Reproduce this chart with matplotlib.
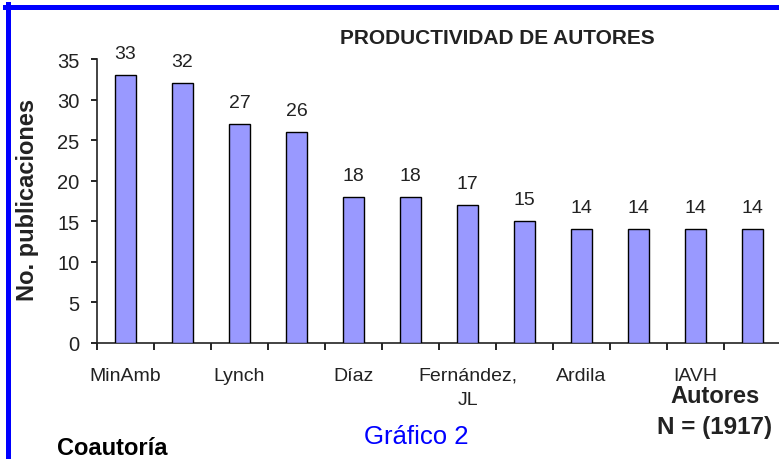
import matplotlib
matplotlib.use("Agg")
import matplotlib.pyplot as plt
from matplotlib.lines import Line2D
import numpy as np

plt.rcParams["font.family"] = ["Liberation Sans", "DejaVu Sans"]

autores = ["MinAmb", "", "Lynch", "", "Díaz", "", "Fernández,\nJL", "",
           "Ardila", "", "IAVH", ""]
publicaciones = [33, 32, 27, 26, 18, 18, 17, 15, 14, 14, 14, 14]
yticks = [0, 5, 10, 15, 20, 25, 30, 35]

BAR = "#9999FF"
INK = "#222222"

fig = plt.figure(figsize=(7.79, 4.60), dpi=100)
ax = fig.add_axes([97 / 779, 116 / 460, 684 / 779, 284 / 460])

x = np.arange(len(publicaciones))
ax.bar(x, publicaciones, width=0.37, color=BAR, edgecolor="black", lw=1.0,
       zorder=3)
for xi, v in zip(x, publicaciones):
    ax.annotate(str(v), (xi, v), xytext=(0, 15.5), textcoords="offset points",
                ha="center", va="center", fontsize=14, color=INK)

ax.set_xlim(-0.5, len(publicaciones) - 0.5)
ax.set_ylim(0, 35)
ax.set_yticks(yticks)
ax.tick_params(axis="y", direction="out", length=4.5, width=1.2, pad=8,
               labelsize=14.5, labelcolor=INK)

# boundary ticks between categories, labels on every second bar
ax.set_xticks(np.arange(len(publicaciones) + 1) - 0.5)
ax.set_xticklabels([])
ax.tick_params(axis="x", which="major", direction="out", length=5, width=1.2)
lab_pos = [i for i, a in enumerate(autores) if a]
ax.set_xticks(lab_pos, minor=True)
ax.set_xticklabels([autores[i] for i in lab_pos], minor=True)
ax.tick_params(axis="x", which="minor", length=0, pad=17, labelsize=14,
               labelcolor=INK)
for t in ax.get_xticklabels(minor=True):
    t.set_verticalalignment("top")
    t.set_linespacing(1.55)

for s in ("top", "right"):
    ax.spines[s].set_visible(False)
for s in ("left", "bottom"):
    ax.spines[s].set_linewidth(1.2)
    ax.spines[s].set_color(INK)

fig.text(497 / 779, 1 - 38 / 460, "PRODUCTIVIDAD DE AUTORES", ha="center",
         va="center", fontsize=15, fontweight="bold", color=INK)
fig.text(28 / 779, 1 - 200 / 460, "No. publicaciones", rotation=90,
         ha="center", va="center", fontsize=17, fontweight="bold", color=INK)
fig.text(715 / 779, 1 - 397 / 460, "Autores", ha="center", va="center",
         fontsize=17, fontweight="bold", color=INK)
fig.text(715 / 779, 1 - 428 / 460, "N = (1917)", ha="center", va="center",
         fontsize=17.5, fontweight="bold", color=INK)
fig.text(416 / 779, 1 - 437 / 460, "Gráfico 2", ha="center", va="center",
         fontsize=18.5, color="#0000FF")
fig.text(57 / 779, 1 - 449 / 460, "Coautoría", ha="left", va="center",
         fontsize=17, fontweight="bold", color="black")

# page frame along the left and top edges
fig.add_artist(Line2D([7.5 / 779, 7.5 / 779], [0, 1 - 5 / 460],
                      color="#0000FF", lw=3.6))
fig.add_artist(Line2D([5 / 779, 1], [1 - 7.5 / 460, 1 - 7.5 / 460],
                      color="#0000FF", lw=3.6))

fig.savefig("out.png", dpi=100)
